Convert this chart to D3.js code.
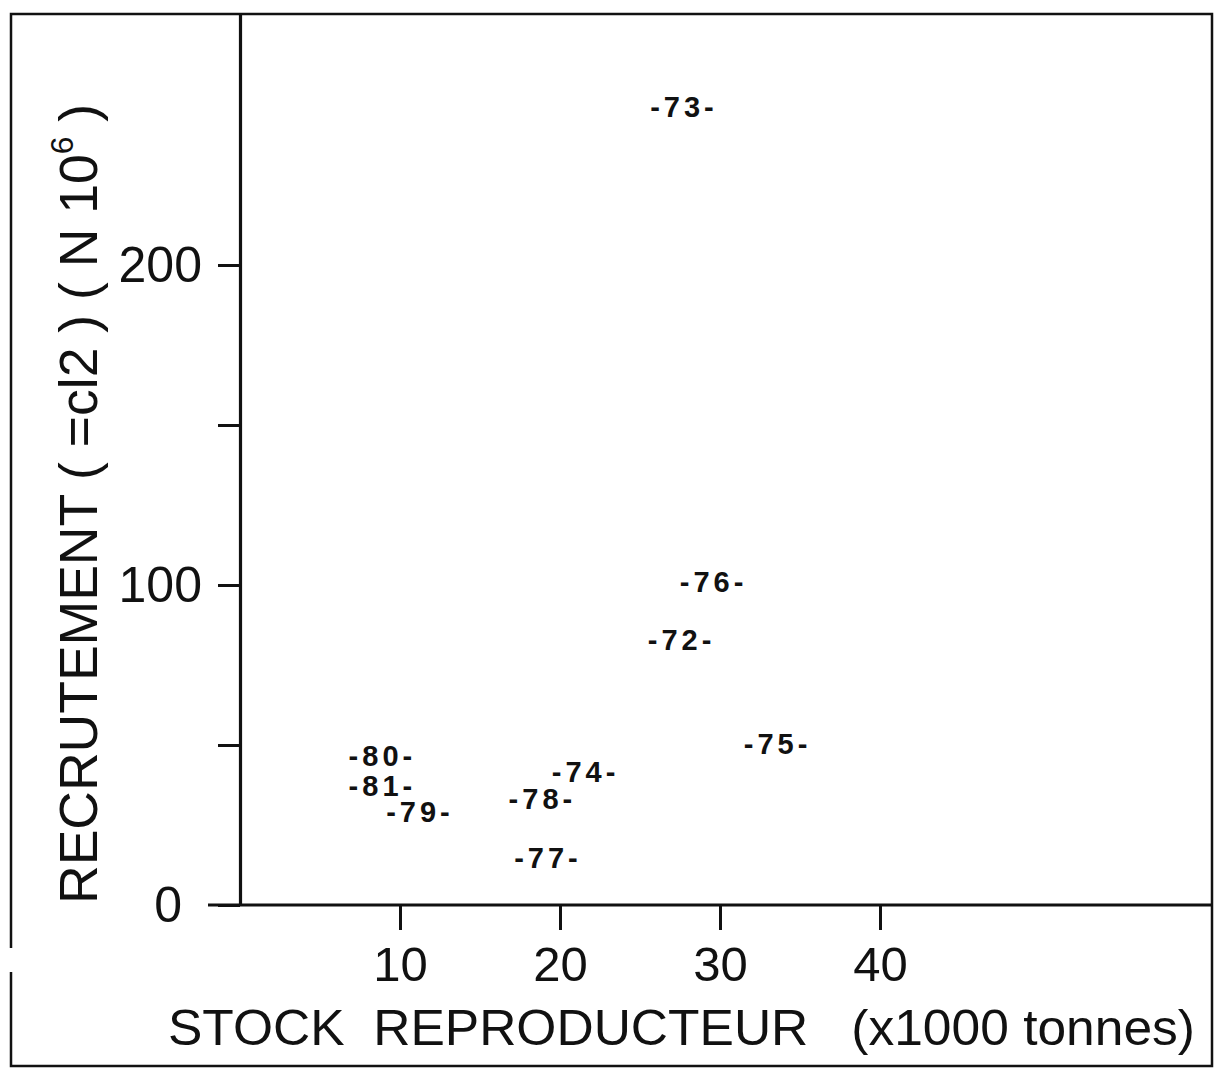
<!DOCTYPE html>
<html>
<head>
<meta charset="utf-8">
<script src="https://cdn.jsdelivr.net/npm/d3@7"></script>
<style>
  html, body { margin: 0; padding: 0; background: #fff; }
  svg { display: block; }
  text { font-family: "Liberation Sans", Arial, sans-serif; fill: #111; }
</style>
</head>
<body>
<svg id="chart" width="1220" height="1074"></svg>
<script>
// ---- data ----
const years   = ["73", "76", "72", "75", "74", "80", "81", "79", "78", "77"];
const stock   = [27.75, 29.6, 27.6, 33.6, 21.6, 8.9, 8.9, 11.25, 18.9, 19.25];   // x1000 tonnes
const recruit = [249.4, 100.9, 82.8, 50.3, 41.6, 46.6, 37.2, 29.1, 33.1, 14.7]; // N 10^6
const xTicks = [10, 20, 30, 40];
const yTicks = [0, 50, 100, 150, 200];
const yTickLabels = {0: "0", 100: "100", 200: "200"};
const xTitle = "STOCK  REPRODUCTEUR   (x1000 tonnes)";
const yTitleMain = "RECRUTEMENT ( =cl2 ) ( N 10";
const yTitleSup = "6";
const yTitleEnd = " )";

const svg = d3.select("#chart");
const frame = {l: 11, t: 14, r: 1212, b: 1066};
const plot = {l: 240, t: 14, r: 1212, b: 905};

const x = d3.scaleLinear().domain([0, (plot.r - plot.l) / 16]).range([plot.l, plot.r]);
const y = d3.scaleLinear().domain([0, (plot.b - plot.t) / 3.2]).range([plot.b, plot.t]);

// outer frame (with the small break on the left edge)
const fg = svg.append("g").attr("stroke", "#111").attr("stroke-width", 2.5).attr("fill", "none");
fg.append("path").attr("d",
  `M${frame.l},948 L${frame.l},${frame.t} L${frame.r},${frame.t} L${frame.r},${frame.b} L${frame.l},${frame.b} L${frame.l},972`);

// x axis
const xAxis = d3.axisBottom(x).tickValues(xTicks).tickSize(25).tickSizeOuter(0).tickPadding(16);
const gx = svg.append("g").attr("transform", `translate(0,${plot.b})`).call(xAxis);
gx.select(".domain").remove();
gx.selectAll(".tick line").attr("stroke", "#111").attr("stroke-width", 3);
gx.selectAll(".tick text").attr("font-size", 49).attr("fill", "#111")
  .attr("font-family", "'Liberation Sans', Arial, sans-serif");
svg.append("line").attr("x1", 208).attr("x2", plot.r).attr("y1", plot.b).attr("y2", plot.b)
  .attr("stroke", "#111").attr("stroke-width", 3.2);

// y axis
const yAxis = d3.axisLeft(y).tickValues(yTicks).tickSize(22).tickSizeOuter(0).tickPadding(16)
  .tickFormat(d => yTickLabels[d] || "");
const gy = svg.append("g").attr("transform", `translate(${plot.l},0)`).call(yAxis);
gy.select(".domain").attr("stroke", "#111").attr("stroke-width", 3.2);
gy.selectAll(".tick line").attr("stroke", "#111").attr("stroke-width", 3);
gy.selectAll(".tick text").attr("font-size", 50).attr("fill", "#111")
  .attr("font-family", "'Liberation Sans', Arial, sans-serif")
  .attr("dx", d => d === 0 ? -20 : 0);

// point labels
svg.append("g").selectAll("text").data(years).join("text")
  .attr("x", (d, i) => x(stock[i]))
  .attr("y", (d, i) => y(recruit[i]))
  .attr("text-anchor", "middle")
  .attr("dominant-baseline", "central")
  .attr("font-size", 29)
  .attr("font-weight", "bold")
  .attr("letter-spacing", 4)
  .text(d => "-" + d + "-");

// x title
svg.append("text")
  .attr("x", 168).attr("y", 1045)
  .attr("font-size", 50)
  .attr("textLength", 1027).attr("lengthAdjust", "spacingAndGlyphs")
  .style("white-space", "pre")
  .text(xTitle);

// y title (rotated)
const yt = svg.append("text")
  .attr("transform", "translate(97,904) rotate(-90)")
  .attr("font-size", 54)
  .attr("textLength", 800).attr("lengthAdjust", "spacingAndGlyphs");
yt.append("tspan").text(yTitleMain);
yt.append("tspan").attr("font-size", 32).attr("dy", -24).text(yTitleSup);
yt.append("tspan").attr("dy", 24).text(yTitleEnd);
</script>
</body>
</html>
